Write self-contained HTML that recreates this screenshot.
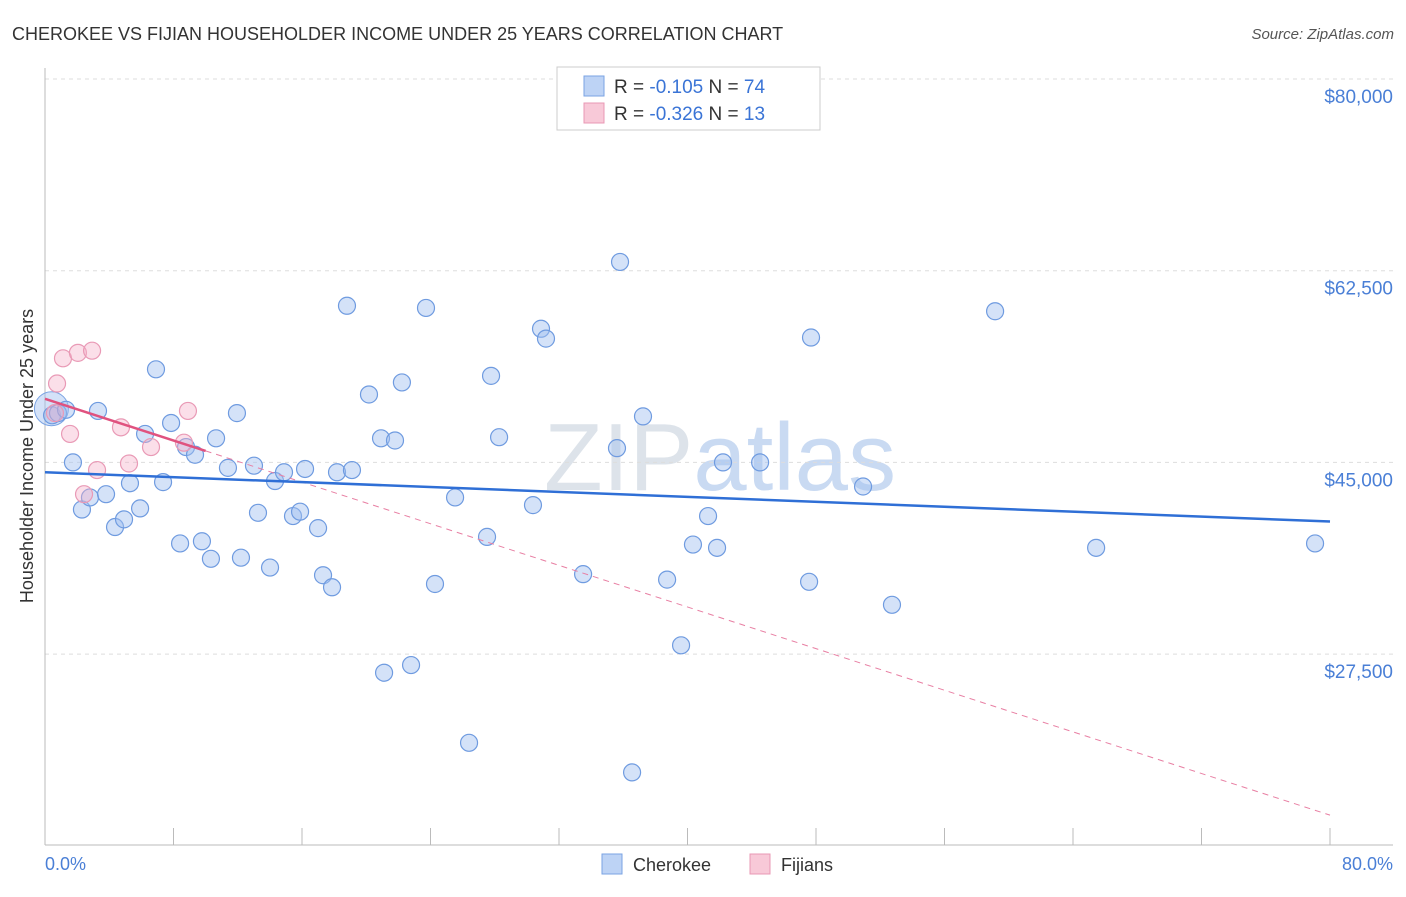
<!DOCTYPE html>
<html><head><meta charset="utf-8">
<style>
body{margin:0;background:#fff;font-family:"Liberation Sans",sans-serif;}
svg text{font-family:"Liberation Sans",sans-serif;}
</style></head>
<body>
<svg width="1406" height="892" viewBox="0 0 1406 892" xmlns="http://www.w3.org/2000/svg">
<text x="12" y="40" font-size="18" fill="#333">CHEROKEE VS FIJIAN HOUSEHOLDER INCOME UNDER 25 YEARS CORRELATION CHART</text>
<text x="1394" y="39" font-size="15" fill="#555" text-anchor="end" font-style="italic">Source: ZipAtlas.com</text>
<text x="720" y="490" font-size="96" fill="#dde3ea" text-anchor="middle" font-family="Liberation Serif">ZIP<tspan fill="#c9daf2" font-family="Liberation Sans">atlas</tspan></text>
<g id="grid"></g>
<g id="axes"></g>
<g id="marks"></g>
<text transform="translate(33,456) rotate(-90)" font-size="18" fill="#333" text-anchor="middle">Householder Income Under 25 years</text>
<text x="45" y="870" font-size="18" fill="#4a7fd6">0.0%</text>
<text x="1393" y="870" font-size="18" fill="#4a7fd6" text-anchor="end">80.0%</text>
<g>
<rect x="557" y="67" width="263" height="63" fill="#fff" stroke="#ccc"/>
<rect x="584" y="76" width="20" height="20" fill="#bdd3f5" stroke="#7aa3e3"/>
<text x="614" y="93" font-size="19" fill="#333">R = <tspan fill="#3a74d6">-0.105</tspan>   N = <tspan fill="#3a74d6">74</tspan></text>
<rect x="584" y="103" width="20" height="20" fill="#f8c9d8" stroke="#e998b4"/>
<text x="614" y="120" font-size="19" fill="#333">R = <tspan fill="#3a74d6">-0.326</tspan>   N = <tspan fill="#3a74d6"> 13</tspan></text>
</g>
<g>
<rect x="602" y="854" width="20" height="20" fill="#bdd3f5" stroke="#7aa3e3"/>
<text x="633" y="871" font-size="18" fill="#333">Cherokee</text>
<rect x="750" y="854" width="20" height="20" fill="#f8c9d8" stroke="#e998b4"/>
<text x="781" y="871" font-size="18" fill="#333">Fijians</text>
</g>
</svg>
<script>
const yTicks=[80000,62500,45000,27500];
const yTickLabels=["$80,000","$62,500","$45,000","$27,500"];
const cherokeeX=[0.44,0.81,1.31,1.74,2.30,2.80,3.30,3.80,4.36,4.92,5.29,5.92,6.23,6.91,7.35,7.85,8.41,8.78,9.34,9.77,10.33,10.65,11.39,11.95,12.20,13.01,13.26,14.01,14.32,14.88,15.44,15.88,16.19,17.00,17.31,17.87,18.18,18.80,19.11,20.17,20.92,21.11,21.79,22.22,22.79,23.72,24.28,25.53,26.40,27.52,27.77,28.27,30.38,30.88,31.19,33.50,35.61,35.80,36.55,37.23,38.73,39.60,40.34,41.28,41.84,42.21,44.52,47.57,47.69,50.93,52.73,59.15,65.44,79.07];
const cherokeeY=[49300,49500,49800,45000,40700,41800,49700,42100,39100,39800,43100,40800,47600,53500,43200,48600,37600,46400,45700,37800,36200,47200,44500,49500,36300,44700,40400,35400,43300,44100,40100,40500,44400,39000,34700,33600,44100,59300,44300,51200,47200,25800,47000,52300,26500,59100,33900,41800,19400,38200,52900,47300,41100,57200,56300,34800,46300,63300,16700,49200,34300,28300,37500,40100,37200,45000,45000,34100,56400,42800,32000,58800,37200,37600];
const fijiX=[0.75,1.12,1.56,2.05,2.43,2.93,3.24,4.73,5.23,6.60,8.65,8.90,0.62];
const fijiY=[52200,54500,47600,55000,42100,55200,44300,48200,44900,46400,46800,49700,49500];
const cherokeeTrend=[44100,39600]; // value at 0% and 80%
const fijiTrend=[50800,12800];
const fijiSolidEnd=10;
const NS="http://www.w3.org/2000/svg";
const X=v=>45+v/80*1285;
const Y=v=>79+(80000-v)/17500*191.7;
function mk(tag,attrs,parent){const e=document.createElementNS(NS,tag);for(const k in attrs)e.setAttribute(k,attrs[k]);document.getElementById(parent).appendChild(e);return e;}
yTicks.forEach((t,i)=>{
 const l=mk('line',{x1:45,x2:1393,y1:Y(t),y2:Y(t),stroke:'#ddd','stroke-dasharray':'4,4'},'grid');
 
 
 const tx=mk('text',{x:1393,y:Y(t)+24,'font-size':19,fill:'#4a7fd6','text-anchor':'end'},'grid');
 tx.textContent=yTickLabels[i];
 
 
});
const ax=mk('line',{x1:45,x2:45,y1:68,y2:845,stroke:'#bbb'},'axes');


const bx=mk('line',{x1:45,x2:1393,y1:845,y2:845,stroke:'#bbb'},'axes');


for(let i=0;i<=10;i++){
 const t=mk('line',{x1:X(i*8),x2:X(i*8),y1:828,y2:845,stroke:'#bbb'},'axes');
 
 
}
const big=mk('circle',{cx:X(0.4),cy:Y(49900),r:17,fill:'rgba(160,190,240,0.45)',stroke:'#7aa3e3','stroke-width':1},'marks');


cherokeeX.forEach((x,i)=>{
 const c=mk('circle',{cx:X(x),cy:Y(cherokeeY[i]),r:8.5,fill:'rgba(160,190,240,0.45)',stroke:'#6f9be0','stroke-width':1.2},'marks');
 
 
});
fijiX.forEach((x,i)=>{
 const c=mk('circle',{cx:X(x),cy:Y(fijiY[i]),r:8.5,fill:'rgba(245,175,200,0.4)',stroke:'#e99ab6','stroke-width':1.2},'marks');
 
 
});
const fAt=x=>fijiTrend[0]+(fijiTrend[1]-fijiTrend[0])*x/80;
const fd=mk('line',{x1:X(fijiSolidEnd),y1:Y(fAt(fijiSolidEnd)),x2:X(80),y2:Y(fijiTrend[1]),stroke:'#e87fa3','stroke-width':1,'stroke-dasharray':'6,5'},'marks');


const fs=mk('line',{x1:X(0),y1:Y(fijiTrend[0]),x2:X(fijiSolidEnd),y2:Y(fAt(fijiSolidEnd)),stroke:'#e0527f','stroke-width':2.5},'marks');


const ct=mk('line',{x1:X(0),y1:Y(cherokeeTrend[0]),x2:X(80),y2:Y(cherokeeTrend[1]),stroke:'#2f6fd6','stroke-width':2.5},'marks');


</script>
</body></html>
